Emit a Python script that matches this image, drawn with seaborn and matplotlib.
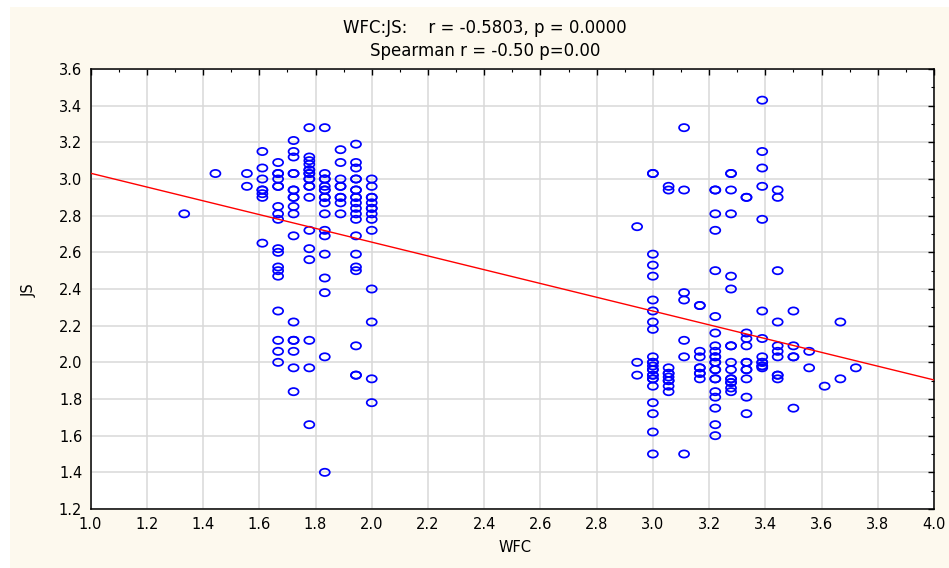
import pandas as pd
import seaborn as sns
import matplotlib.pyplot as plt
from matplotlib.path import Path
from matplotlib.patches import Rectangle
from matplotlib.ticker import MultipleLocator

# repeated values are respondents sitting on top of each other
wfc_levels = [1.333, 1.444, 1.556, 1.611, 1.667, 1.722, 1.778, 1.833, 1.889, 1.944, 2.0,
              2.944, 3.0, 3.056, 3.111, 3.167, 3.222, 3.278, 3.333, 3.389, 3.444, 3.5,
              3.556, 3.611, 3.667, 3.722]
js_values = [
    [2.81],
    [3.03],
    [3.03, 2.96],
    [3.15, 3.06, 3.0, 2.94, 2.94, 2.92, 2.90, 2.65],
    [3.09, 3.03, 3.03, 3.0, 2.96, 2.96, 2.85, 2.81, 2.78, 2.62, 2.60, 2.52, 2.50, 2.47,
     2.28, 2.12, 2.06, 2.0],
    [3.21, 3.15, 3.12, 3.03, 3.03, 2.94, 2.94, 2.90, 2.90, 2.85, 2.81, 2.69, 2.22, 2.12,
     2.12, 2.06, 1.97, 1.84],
    [3.28, 3.12, 3.10, 3.08, 3.05, 3.05, 3.03, 3.03, 3.0, 3.0, 2.96, 2.96, 2.90, 2.72,
     2.62, 2.56, 2.12, 1.97, 1.66],
    [3.28, 3.03, 3.0, 3.0, 2.96, 2.94, 2.94, 2.90, 2.90, 2.87, 2.81, 2.72, 2.69, 2.59,
     2.46, 2.38, 2.03, 1.40],
    [3.16, 3.09, 3.0, 2.96, 2.96, 2.90, 2.90, 2.87, 2.81],
    [3.19, 3.09, 3.06, 3.0, 3.0, 2.94, 2.94, 2.90, 2.90, 2.87, 2.84, 2.81, 2.78, 2.69,
     2.59, 2.52, 2.50, 2.09, 1.93, 1.93],
    [3.0, 2.96, 2.90, 2.90, 2.87, 2.84, 2.84, 2.81, 2.78, 2.72, 2.40, 2.22, 1.91, 1.78],
    [2.74, 2.0, 1.93],
    [3.03, 3.03, 2.59, 2.53, 2.47, 2.34, 2.28, 2.22, 2.18, 2.03, 2.0, 2.0, 1.98, 1.96,
     1.96, 1.93, 1.93, 1.91, 1.91, 1.87, 1.78, 1.72, 1.62, 1.50],
    [2.96, 2.94, 1.97, 1.94, 1.94, 1.92, 1.90, 1.90, 1.87, 1.84],
    [3.28, 2.94, 2.38, 2.34, 2.12, 2.03, 1.50],
    [2.31, 2.31, 2.06, 2.03, 1.97, 1.97, 1.94, 1.94, 1.91],
    [2.94, 2.94, 2.81, 2.72, 2.50, 2.25, 2.16, 2.09, 2.06, 2.03, 2.03, 2.0, 2.0, 1.96,
     1.96, 1.91, 1.91, 1.84, 1.81, 1.75, 1.66, 1.60],
    [3.03, 3.03, 2.94, 2.81, 2.47, 2.40, 2.09, 2.09, 2.0, 1.96, 1.91, 1.91, 1.89, 1.89,
     1.86, 1.84],
    [2.90, 2.90, 2.16, 2.13, 2.09, 2.0, 2.0, 1.96, 1.96, 1.91, 1.81, 1.72],
    [3.43, 3.15, 3.06, 2.96, 2.78, 2.28, 2.13, 2.03, 2.0, 2.0, 1.98, 1.98, 1.97],
    [2.94, 2.90, 2.50, 2.22, 2.09, 2.06, 2.03, 1.93, 1.93, 1.91],
    [2.28, 2.09, 2.03, 2.03, 1.75],
    [2.06, 1.97],
    [1.87],
    [2.22, 1.91],
    [1.97],
]

title_line1 = "WFC:JS:    r = -0.5803, p = 0.0000"
title_line2 = "Spearman r = -0.50 p=0.00"

rows = [(w, j) for w, col in zip(wfc_levels, js_values) for j in col]
df = pd.DataFrame(rows, columns=["WFC", "JS"])

sns.set_style("white")
plt.rcParams.update({
    "font.family": ["DejaVu Sans"],
    "font.size": 10.5,
    "text.color": "black",
    "xtick.color": "black",
    "ytick.color": "black",
    "xtick.labelcolor": "black",
    "ytick.labelcolor": "black",
})

W, H = 949, 568
fig = plt.figure(figsize=(W / 100, H / 100), dpi=100, facecolor="white")
# cream panel behind everything
fig.patches.append(Rectangle((10 / W, 0), 1 - 10 / W, 1 - 7 / H, transform=fig.transFigure,
                             facecolor="#FDF9EE", edgecolor="none", zorder=-10))

ax = fig.add_axes([90.6 / W, 1 - 509 / H, (934 - 90.6) / W, (509 - 69) / H])
ax.set_facecolor("white")
ax.set_xlim(1.0, 4.0)
ax.set_ylim(1.2, 3.6)

# open ellipse marker
circ = Path.unit_circle()
ellipse = Path(circ.vertices * [1, 0.72], circ.codes)

sns.scatterplot(data=df, x="WFC", y="JS", marker=ellipse, s=52, color="blue",
                facecolor="none", edgecolor="blue", linewidth=1.25, ax=ax, zorder=3)
sns.regplot(data=df, x="WFC", y="JS", scatter=False, ci=None, truncate=False,
            color="red", line_kws={"linewidth": 1.0, "zorder": 4}, ax=ax)

ax.set_xlim(1.0, 4.0)
ax.set_ylim(1.2, 3.6)
ax.xaxis.set_major_locator(MultipleLocator(0.2))
ax.xaxis.set_minor_locator(MultipleLocator(0.1))
ax.yaxis.set_major_locator(MultipleLocator(0.2))
ax.yaxis.set_minor_locator(MultipleLocator(0.1))
ax.xaxis.set_major_formatter(lambda v, p: f"{v:.1f}")
ax.yaxis.set_major_formatter(lambda v, p: f"{v:.1f}")
ax.tick_params(which="both", direction="in", top=True, right=True,
               color="black", labelcolor="black")
ax.tick_params(which="major", length=4, width=1.0, labelsize=10.5)
ax.tick_params(which="minor", length=2.5, width=0.8)
ax.tick_params(axis="x", pad=6)
ax.tick_params(axis="y", pad=6)
ax.grid(True, which="major", color="#D9D9D9", linewidth=1.1)
ax.set_axisbelow(True)
for sp in ax.spines.values():
    sp.set_visible(True)
    sp.set_color("black")
    sp.set_linewidth(1.1)

ax.set_xlabel("")
ax.set_ylabel("")
fig.text(515 / W, 1 - 548 / H, "WFC", ha="center", va="center", fontsize=10.5, color="black")
fig.text(29 / W, 1 - 290 / H, "JS", ha="center", va="center", rotation=90,
         fontsize=10.5, color="black")
fig.text(485 / W, 1 - 28 / H, title_line1, ha="center", va="center", fontsize=12, color="black")
fig.text(485 / W, 1 - 51 / H, title_line2, ha="center", va="center", fontsize=12, color="black")

fig.savefig("out.png", dpi=100, facecolor=fig.get_facecolor())
